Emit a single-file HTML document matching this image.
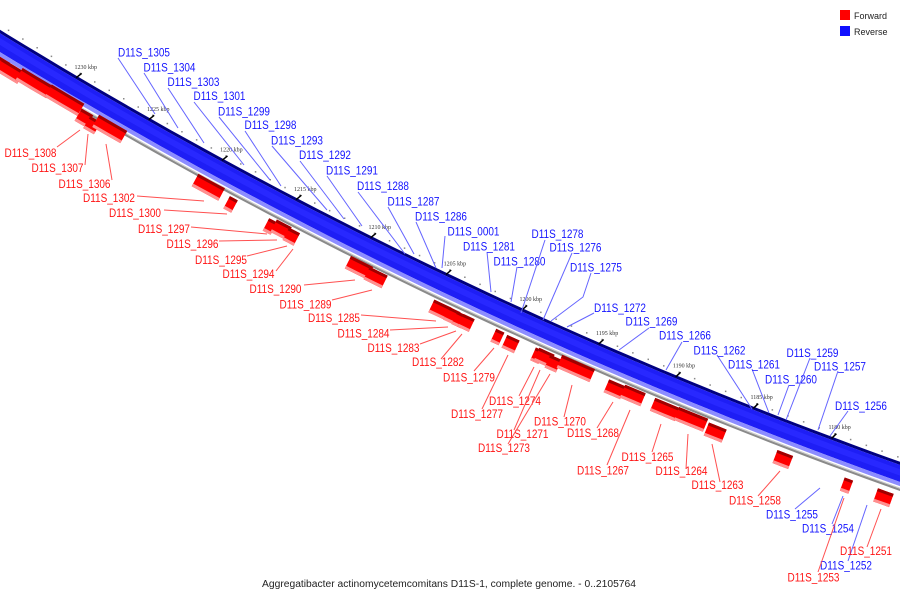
<!DOCTYPE html>
<html><head><meta charset="utf-8"><style>
html,body{margin:0;padding:0;background:#fff;}
svg{display:block;font-family:"Liberation Sans",sans-serif;}
</style></head><body>
<svg id="chart" width="900" height="600" viewBox="0 0 900 600" xmlns="http://www.w3.org/2000/svg">
<g id="band"></g>
<g id="genes"></g>
<g id="ticks"></g>
<g id="labels"></g>
<g>
<rect x="840" y="10" width="10" height="10" fill="#ff0000"/>
<text x="854" y="19" font-size="9" fill="#222">Forward</text>
<rect x="840" y="26" width="10" height="10" fill="#1010ff"/>
<text x="854" y="35" font-size="9" fill="#222">Reverse</text>
</g>
<text x="262" y="587" font-size="10" fill="#222" textLength="374" lengthAdjust="spacingAndGlyphs">Aggregatibacter actinomycetemcomitans D11S-1, complete genome. - 0..2105764</text>
</svg>
<script>
// kbp tick values
const tickKbp = [1230,1225,1220,1215,1210,1205,1200,1195,1190,1185,1180];
// forward gene centres (kbp), lengths (kbp), radial row offsets
const geneCenter = [1234.4,1233.66,1232.05,1230.0,1228.47,1227.84,1226.82,1220.03,1218.39,1215.72,1215.05,1214.32,1209.91,1208.77,1204.5,1203.71,1203.23,1202.77,1200.74,1199.86,1198.14,1197.72,1197.09,1195.74,1193.14,1192.01,1189.93,1188.28,1186.66,1182.35,1178.28,1175.98];
const geneLen = [1.0,1.52,2.12,2.25,0.79,0.73,1.92,1.79,0.53,0.53,0.99,0.73,1.46,1.19,1.13,0.73,0.6,0.73,0.53,0.8,0.53,0.99,0.73,2.12,1.06,1.32,1.59,1.86,1.13,0.99,0.53,0.99];
const geneRow = [19,19.3,16.8,16.1,21.6,23.7,18.2,21,25.5,26.6,24.2,25.7,22.8,24.1,25.3,25.5,26,25.8,25.5,26.4,26.1,25,26.8,22.1,25.8,24.3,24.8,24.1,27.2,27.6,29.6,28.4];

const NS="http://www.w3.org/2000/svg";
const CX=2520.7, CY=-4068, R=4811, PHI0=120.51, DEG_PER_KBP=0.1996, VSHIFT=4;
function phiOf(k){return PHI0-(1230-k)*DEG_PER_KBP;}
function P(phi,v){const a=phi*Math.PI/180;return [CX+(R+v)*Math.cos(a), CY+(R+v)*Math.sin(a)];}
function mk(tag,attrs,parent){const e=document.createElementNS(NS,tag);for(const k in attrs)e.setAttribute(k,attrs[k]);parent.appendChild(e);return e;}
function ring(p0,p1,v0,v1,fill,parent,name){
  const n=Math.max(2,Math.ceil(Math.abs(p1-p0)/0.25));
  const pts=[];
  for(let i=0;i<=n;i++)pts.push(P(p0+(p1-p0)*i/n,v0));
  for(let i=n;i>=0;i--)pts.push(P(p0+(p1-p0)*i/n,v1));
  const e=mk('polygon',{points:pts.map(p=>p[0].toFixed(1)+","+p[1].toFixed(1)).join(" "),fill:fill},parent);
  
  
  return e;
}
const band=document.getElementById('band');
const PA=123, PB=108.5;
ring(PA,PB,0,3,'#000080',band,'band-top-edge');
ring(PA,PB,3,19,'#1e1ef5',band,'reverse-strand');
ring(PA,PB,7,13,'#2828ff',band,'reverse-strand-core');
ring(PA,PB,19,23,'#8c8cff',band,'reverse-strand-shadow');
ring(PA,PB,24.5,27.5,'#8a8a8a',band,'forward-axis-line');
ring(PA,PB,24.5,25.5,'#d0d0d0',band,'forward-axis-highlight');

const ticks=document.getElementById('ticks');
for(let k=1236;k>=1170;k--){
  const d=P(phiOf(k),-4);
  const c=mk('rect',{x:(d[0]-0.7).toFixed(1),y:(d[1]-0.7).toFixed(1),width:1.5,height:1.5,fill:'#888'},ticks);
  
  
}
tickKbp.forEach(k=>{
  const ph=phiOf(k);
  const a=P(ph,-4),b=P(ph,1);
  const l=mk('line',{x1:(a[0]+1.5).toFixed(1),y1:a[1].toFixed(1),x2:(b[0]-1.5).toFixed(1),y2:b[1].toFixed(1),stroke:'#000','stroke-width':1.5},ticks);
  
  
  const t=P(ph,-9);
  const tx=mk('text',{x:(t[0]+3).toFixed(1),y:t[1].toFixed(1),'font-size':6,'text-anchor':'middle',fill:'#333','font-family':'Liberation Serif, serif'},ticks);
  tx.textContent=k+' kbp';
  
  
});

const genes=document.getElementById('genes');
geneCenter.forEach((c,i)=>{
  const p0=phiOf(c+geneLen[i]/2), p1=phiOf(c-geneLen[i]/2), v=geneRow[i]+VSHIFT;
  const g=mk('g',{},genes);
  
  
  ring(p0,p1,v,v+14,'#ff0000',g,'gene-body');
  ring(p0,p1,v,v+3,'#a00000',g,'gene-top');
  ring(p0,p1,v+11,v+14,'#ff9090',g,'gene-base');
});

// labels: text, x, baseline, colour, leader polyline points
const labels=[
["D11S_1305",118,56.5,"b",[[118,58],[155,114]]],
["D11S_1304",143.5,71.5,"b",[[144,73],[178,128]]],
["D11S_1303",167.5,86,"b",[[168,88],[204,143]]],
["D11S_1301",193.5,100,"b",[[194,102],[244,165]]],
["D11S_1299",218,115.5,"b",[[219,117],[270,180]]],
["D11S_1298",244.5,129,"b",[[245,131],[281,186]]],
["D11S_1293",271,144.5,"b",[[272,146],[327,210]]],
["D11S_1292",299,159,"b",[[300,161],[344,219]]],
["D11S_1291",326,174.5,"b",[[327,176],[362,226]]],
["D11S_1288",357,190,"b",[[358,192],[405,254]]],
["D11S_1287",387.5,205.5,"b",[[388,207],[414,254]]],
["D11S_1286",415,220.5,"b",[[416,222],[436,268]]],
["D11S_0001",447.5,235.5,"b",[[445,236],[442,268]]],
["D11S_1281",463,250.5,"b",[[487,252],[491,292]]],
["D11S_1280",493.5,265.5,"b",[[517,267],[511,302]]],
["D11S_1278",531.5,238,"b",[[545,240],[521,313]]],
["D11S_1276",549.5,251.5,"b",[[572,253],[543,320]]],
["D11S_1275",570,271.5,"b",[[591,273],[583,297],[551,321]]],
["D11S_1272",594,312,"b",[[594,313],[567,327]]],
["D11S_1269",625.5,325.5,"b",[[649,328],[619,350]]],
["D11S_1266",659,339.5,"b",[[682,342],[666,370]]],
["D11S_1262",693.5,354.5,"b",[[717,355],[752,409]]],
["D11S_1261",728,368.5,"b",[[752,369],[769,413]]],
["D11S_1260",765,383.5,"b",[[789,385],[778,415]]],
["D11S_1259",786.5,357,"b",[[810,358],[786,420]]],
["D11S_1257",814,370.5,"b",[[838,371],[818,430]]],
["D11S_1256",835,410,"b",[[848,411],[830,436]]],
["D11S_1255",766,518.5,"b",[[795,509],[820,488]]],
["D11S_1254",802,532.5,"b",[[832,524],[843,496]]],
["D11S_1252",820,569.5,"b",[[848,561],[867,505]]],
["D11S_1308",4.5,157,"r",[[57,147],[80,130]]],
["D11S_1307",31.5,172,"r",[[85,165],[88,134]]],
["D11S_1306",58.5,188,"r",[[112,180],[106,144]]],
["D11S_1302",83,202,"r",[[137,196],[204,201]]],
["D11S_1300",109,217,"r",[[164,210],[227,214]]],
["D11S_1297",138,233,"r",[[191,227],[267,234]]],
["D11S_1296",166.5,248,"r",[[219,241],[277,240]]],
["D11S_1295",195,264,"r",[[247,256],[287,246]]],
["D11S_1294",222.5,278,"r",[[276,271],[293,249]]],
["D11S_1290",249.5,293,"r",[[304,285],[355,280]]],
["D11S_1289",279.5,308.5,"r",[[332,300],[372,290]]],
["D11S_1285",308,322,"r",[[361,315],[436,321]]],
["D11S_1284",337.5,337.5,"r",[[390,330],[448,327]]],
["D11S_1283",367.5,352,"r",[[420,344],[456,331]]],
["D11S_1282",412,366,"r",[[441,359],[462,334]]],
["D11S_1279",443,381.5,"r",[[474,371],[494,348]]],
["D11S_1274",489,405,"r",[[519,396],[534,367]]],
["D11S_1277",451,418,"r",[[482,409],[508,355]]],
["D11S_1270",534,425.5,"r",[[564,417],[572,385]]],
["D11S_1271",496.5,438,"r",[[514,430],[540,370]]],
["D11S_1268",567,437,"r",[[597,428],[613,402]]],
["D11S_1273",478,452,"r",[[508,444],[550,374]]],
["D11S_1265",621.5,461,"r",[[652,452],[661,424]]],
["D11S_1267",577,474.5,"r",[[607,465],[630,410]]],
["D11S_1264",655.5,475,"r",[[686,469],[688,434]]],
["D11S_1263",691.5,489,"r",[[720,482],[712,444]]],
["D11S_1258",729,504.5,"r",[[758,496],[780,471]]],
["D11S_1251",840,555,"r",[[867,547],[881,509]]],
["D11S_1253",787.5,581.5,"r",[[818,572],[844,498]]]
];
const lg=document.getElementById('labels');
labels.forEach(L=>{
  const col=L[3]==="b"?"#1414ff":"#ff1414";
  const line=mk('polyline',{points:L[4].map(p=>p.join(",")).join(" "),fill:'none',stroke:L[3]==="b"?"#6464ff":"#ff5050",'stroke-width':1},lg);
  
  
  const t=mk('text',{x:L[1],y:L[2],'font-size':11.5,fill:col,textLength:52,lengthAdjust:'spacingAndGlyphs'},lg);
  t.textContent=L[0];
  
  
});
</script>
</body></html>
